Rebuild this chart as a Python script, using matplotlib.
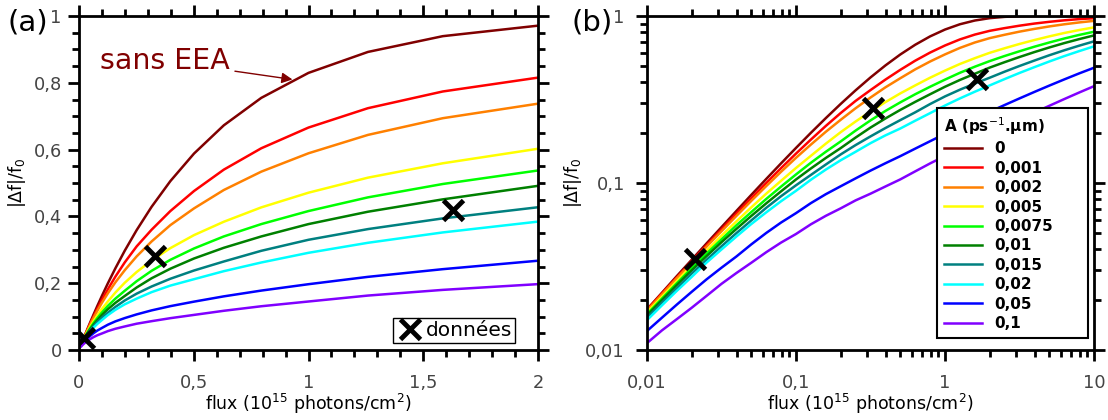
import matplotlib
matplotlib.use('Agg')
import matplotlib.pyplot as plt
from matplotlib.ticker import MultipleLocator, NullFormatter

# flux (10^15 photons/cm2), same sampling for both panels
flux = [0.01, 0.01259, 0.01585, 0.01995, 0.02512, 0.03162, 0.03981, 0.05012, 0.0631, 0.07943,
        0.1, 0.1259, 0.1585, 0.1995, 0.2512, 0.3162, 0.3981, 0.5012, 0.631, 0.7943,
        1.0, 1.259, 1.585, 1.995, 2.512, 3.162, 3.981, 5.012, 6.31, 7.943, 10.0]

# |df|/f0 for each A (ps-1.um)
A_0 = [0.0175, 0.0220, 0.0277, 0.0347, 0.0435, 0.0544, 0.0680, 0.0849, 0.1057, 0.1312,
       0.1622, 0.1998, 0.2446, 0.2975, 0.3589, 0.4286, 0.5057, 0.5882, 0.6727, 0.7549,
       0.8297, 0.8924, 0.9396, 0.9707, 0.9883, 0.9963, 0.9991, 0.9999, 1.0, 1.0, 1.0]
A_0001 = [0.0174, 0.0218, 0.0272, 0.0340, 0.0424, 0.0528, 0.0656, 0.0812, 0.1000, 0.1228,
          0.1500, 0.1820, 0.2196, 0.2624, 0.3102, 0.360, 0.416, 0.476, 0.540, 0.604,
          0.666, 0.724, 0.774, 0.815, 0.846, 0.875, 0.901, 0.923, 0.942, 0.958, 0.970]
A_0002 = [0.0172, 0.0215, 0.0269, 0.0334, 0.0416, 0.0514, 0.0635, 0.0782, 0.0958, 0.1168,
          0.1415, 0.1699, 0.2026, 0.2390, 0.2803, 0.3249, 0.3739, 0.424, 0.479, 0.534,
          0.589, 0.644, 0.694, 0.737, 0.772, 0.806, 0.837, 0.866, 0.892, 0.915, 0.935]
A_0005 = [0.0168, 0.0208, 0.0258, 0.0319, 0.0393, 0.0483, 0.0589, 0.0715, 0.0863, 0.1031,
          0.1230, 0.1455, 0.172, 0.2015, 0.2335, 0.268, 0.305, 0.344, 0.384, 0.427,
          0.471, 0.516, 0.559, 0.602, 0.641, 0.680, 0.718, 0.755, 0.791, 0.824, 0.855]
A_00075 = [0.0164, 0.0203, 0.0251, 0.0309, 0.0378, 0.0460, 0.0558, 0.0670, 0.0802, 0.0952,
           0.1125, 0.1322, 0.1538, 0.1774, 0.206, 0.237, 0.270, 0.304, 0.340, 0.377,
           0.416, 0.457, 0.497, 0.537, 0.576, 0.615, 0.655, 0.694, 0.733, 0.770, 0.805]
A_001 = [0.0161, 0.0199, 0.0245, 0.0300, 0.0365, 0.0442, 0.0531, 0.0635, 0.0755, 0.0892,
         0.1050, 0.1222, 0.1412, 0.1618, 0.1871, 0.2147, 0.2434, 0.274, 0.306, 0.340,
         0.377, 0.414, 0.451, 0.491, 0.529, 0.568, 0.608, 0.648, 0.688, 0.727, 0.765]
A_0015 = [0.0156, 0.0192, 0.0234, 0.0287, 0.0347, 0.0418, 0.0501, 0.0597, 0.0710, 0.0834,
          0.0969, 0.1118, 0.1290, 0.1483, 0.1687, 0.1901, 0.2133, 0.238, 0.265, 0.297,
          0.330, 0.362, 0.394, 0.427, 0.464, 0.502, 0.541, 0.582, 0.623, 0.664, 0.705]
A_002 = [0.0151, 0.0185, 0.0226, 0.0274, 0.0334, 0.0400, 0.0478, 0.0568, 0.0667, 0.0778,
         0.0898, 0.1046, 0.1203, 0.1368, 0.1538, 0.1732, 0.1928, 0.212, 0.236, 0.262,
         0.291, 0.321, 0.352, 0.384, 0.419, 0.456, 0.494, 0.534, 0.575, 0.616, 0.658]
A_005 = [0.0130, 0.0156, 0.0187, 0.0223, 0.0265, 0.0311, 0.0363, 0.0429, 0.0502, 0.0580,
         0.0660, 0.0758, 0.0857, 0.0956, 0.1066, 0.1186, 0.1313, 0.1448, 0.1606, 0.1779,
         0.197, 0.219, 0.242, 0.267, 0.293, 0.321, 0.351, 0.383, 0.417, 0.453, 0.490]
A_01 = [0.0110, 0.0131, 0.0153, 0.0179, 0.0211, 0.0249, 0.0289, 0.0333, 0.0385, 0.0440,
        0.0495, 0.0566, 0.0636, 0.0705, 0.0787, 0.0863, 0.0953, 0.1051, 0.1174, 0.1310,
        0.1452, 0.163, 0.180, 0.197, 0.2175, 0.2397, 0.2639, 0.2899, 0.318, 0.348, 0.380]

series = [A_0, A_0001, A_0002, A_0005, A_00075, A_001, A_0015, A_002, A_005, A_01]
labels = ['0', '0,001', '0,002', '0,005', '0,0075', '0,01', '0,015', '0,02', '0,05', '0,1']
colors = ['#800000', '#ff0000', '#ff8000', '#ffff00', '#00ff00', '#008000',
          '#008080', '#00ffff', '#0000ff', '#8000ff']

# measured points
data_x = [0.021, 0.33, 1.63]
data_y = [0.035, 0.28, 0.42]

fig = plt.figure(figsize=(11.08, 4.2), dpi=100)
ax1 = fig.add_axes([79/1108, 70/420, 459/1108, 334/420])
ax2 = fig.add_axes([647/1108, 70/420, 447/1108, 334/420])

for ax in (ax1, ax2):
    for y, lab, c in zip(series, labels, colors):
        ax.plot(flux, y, color=c, lw=1.8, label=lab)
    for s in ax.spines.values():
        s.set_linewidth(2)
    ax.tick_params(which='both', direction='out', top=True, right=True, width=2,
                   labelsize=12.8, labelcolor='#444444')
    ax.tick_params(which='major', length=8)
    ax.tick_params(which='minor', length=5)
    ax.tick_params(axis='x', pad=9)
    ax.set_xlabel('flux (10$^{15}$ photons/cm$^2$)', fontsize=12.5, labelpad=0)

ax1.tick_params(axis='y', pad=4.5)
ax2.tick_params(axis='y', pad=8)
ax1.set_ylabel('|Δf|/f$_0$', fontsize=12.5, labelpad=4)
ax2.set_ylabel('|Δf|/f$_0$', fontsize=12.5, labelpad=1)

# (a) linear scale
ax1.set_xlim(0, 2)
ax1.set_ylim(0, 1)
ax1.set_xticks([0, 0.5, 1, 1.5, 2], ['0', '0,5', '1', '1,5', '2'])
ax1.set_yticks([0, 0.2, 0.4, 0.6, 0.8, 1], ['0', '0,2', '0,4', '0,6', '0,8', '1'])
ax1.xaxis.set_minor_locator(MultipleLocator(0.1))
ax1.yaxis.set_minor_locator(MultipleLocator(0.05))
dat, = ax1.plot(data_x, data_y, 'x', color='black', ms=14, mew=3.5, label='données')
leg1 = ax1.legend(handles=[dat], loc='lower right', bbox_to_anchor=(0.95, 0.021),
                  borderaxespad=0, fontsize=14.5, frameon=True, fancybox=False,
                  edgecolor='black', framealpha=1, handletextpad=0.15, borderpad=0.15,
                  handlelength=1.3)
leg1.get_frame().set_linewidth(1)
ax1.annotate('sans EEA', xy=(0.93, 0.81), xytext=(0.09, 0.865), color='#800000',
             fontsize=20.5, va='center',
             arrowprops=dict(arrowstyle='-|>', color='#800000', lw=1, mutation_scale=16,
                             shrinkA=2, shrinkB=0))

# (b) log-log
ax2.set_xscale('log')
ax2.set_yscale('log')
ax2.set_xlim(0.01, 10)
ax2.set_ylim(0.01, 1)
ax2.set_xticks([0.01, 0.1, 1, 10], ['0,01', '0,1', '1', '10'])
ax2.set_yticks([0.01, 0.1, 1], ['0,01', '0,1', '1'])
ax2.xaxis.set_minor_formatter(NullFormatter())
ax2.yaxis.set_minor_formatter(NullFormatter())
ax2.plot(data_x, data_y, 'x', color='black', ms=14, mew=3.5)
leg2 = ax2.legend(handles=ax2.get_lines()[:10], loc='lower left',
                  bbox_to_anchor=((937 - 647) / 447, 12 / 334, 151 / 447, 0.6),
                  mode='expand', borderaxespad=0,
                  title='A (ps$^{-1}$.µm)', prop={'weight': 'bold', 'size': 11},
                  frameon=True, fancybox=False, edgecolor='black', framealpha=1,
                  handlelength=2.5, handletextpad=0.8, labelspacing=0.29, borderpad=0.45)
leg2.get_title().set_fontweight('bold')
leg2.get_title().set_fontsize(11)
leg2._legend_box.align = 'left'
leg2.get_frame().set_linewidth(1.5)

fig.text(8/1108, 1-22/420, '(a)', fontsize=21, va='center')
fig.text(572/1108, 1-22/420, '(b)', fontsize=21, va='center')

fig.savefig('out.png', dpi=100)
